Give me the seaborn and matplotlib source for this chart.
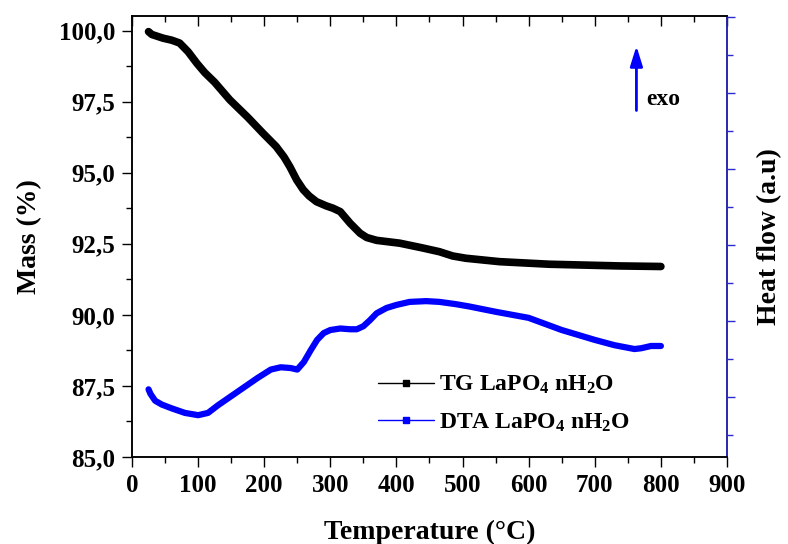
import numpy as np
import pandas as pd
import seaborn as sns
import matplotlib.pyplot as plt
from matplotlib.lines import Line2D
from matplotlib.ticker import MultipleLocator, FuncFormatter

# TG curve, mass in % (left axis)
tg_temp = [25, 30, 47, 60, 72, 85, 98, 110, 125, 148, 175, 198, 218, 230, 239, 249,
           259, 268, 279, 294, 304, 315, 330, 345, 355, 370, 405, 438, 465, 485,
           505, 556, 631, 737, 800]
tg_mass = [99.96, 99.86, 99.73, 99.66, 99.56, 99.25, 98.85, 98.52, 98.18, 97.56, 96.95,
           96.39, 95.92, 95.55, 95.20, 94.75, 94.40, 94.18, 93.98, 93.83, 93.75, 93.63,
           93.22, 92.87, 92.72, 92.62, 92.52, 92.36, 92.22, 92.07, 91.99, 91.87, 91.78,
           91.72, 91.70]

# DTA curve, heat flow in arbitrary units (right axis)
dta_temp = [25, 28, 35, 45, 60, 80, 100, 115, 130, 150, 170, 190, 210, 225, 240, 250,
            260, 270, 280, 290, 300, 315, 330, 340, 350, 360, 370, 385, 400, 420, 445,
            465, 490, 510, 550, 600, 650, 700, 730, 760, 770, 785, 800]
dta_flow = [0.10, 0.04, -0.05, -0.10, -0.15, -0.21, -0.24, -0.21, -0.11, 0.01, 0.13,
            0.25, 0.36, 0.39, 0.38, 0.36, 0.46, 0.61, 0.75, 0.84, 0.88, 0.90, 0.89, 0.89,
            0.93, 1.01, 1.10, 1.17, 1.21, 1.25, 1.26, 1.25, 1.22, 1.19, 1.12, 1.04, 0.88,
            0.75, 0.68, 0.63, 0.64, 0.67, 0.67]

labels = ['TG LaPO$_4$ nH$_2$O', 'DTA LaPO$_4$ nH$_2$O']

tg = pd.DataFrame({'temp': tg_temp, 'mass': tg_mass})
dta = pd.DataFrame({'temp': dta_temp, 'flow': dta_flow})

sns.set_style('ticks')
plt.rcParams['font.family'] = ['Liberation Serif', 'DejaVu Serif']
plt.rcParams['font.weight'] = 'bold'
plt.rcParams['axes.labelweight'] = 'bold'
plt.rcParams['text.color'] = 'black'
plt.rcParams['axes.labelcolor'] = 'black'
plt.rcParams['mathtext.fontset'] = 'custom'
plt.rcParams['mathtext.rm'] = 'Liberation Serif:bold'
plt.rcParams['mathtext.bf'] = 'Liberation Serif:bold'
plt.rcParams['mathtext.it'] = 'Liberation Serif:bold'
plt.rcParams['mathtext.default'] = 'rm'

blue_axis = '#2b2bd0'

fig = plt.figure(figsize=(7.88, 5.44), dpi=100)
fig.subplots_adjust(left=132/788, right=727/788, bottom=1-457/544, top=1-16/544)
ax = fig.add_subplot(111)
ax2 = ax.twinx()

sns.lineplot(data=tg, x='temp', y='mass', ax=ax, color='black', lw=5.5, sort=False)
sns.lineplot(data=dta, x='temp', y='flow', ax=ax2, color='blue', lw=4.5, sort=False)

ax.set_xlim(0, 900)
ax.set_ylim(85, 100.51)
ax2.set_ylim(-0.79, 5.01)

ax.xaxis.set_major_locator(MultipleLocator(100))
ax.xaxis.set_minor_locator(MultipleLocator(50))
ax.yaxis.set_major_locator(MultipleLocator(2.5))
ax.yaxis.set_minor_locator(MultipleLocator(1.25))
ax.yaxis.set_major_formatter(FuncFormatter(lambda v, p: f'{v:.1f}'.replace('.', ',')))
ax2.yaxis.set_major_locator(MultipleLocator(1))
ax2.yaxis.set_minor_locator(MultipleLocator(0.5))
ax2.yaxis.set_major_formatter(FuncFormatter(lambda v, p: ''))

ax.tick_params(axis='both', which='major', direction='out', length=7, width=1,
               labelsize=18, pad=5, colors='black')
ax.tick_params(axis='both', which='minor', direction='out', length=4, width=1,
               colors='black')
ax.tick_params(axis='x', which='both', top=True)
ax2.tick_params(axis='y', which='major', direction='out', length=6, width=1,
                colors=blue_axis)
ax2.tick_params(axis='y', which='minor', direction='out', length=4, width=1,
                colors=blue_axis)

for a in (ax, ax2):
    for s in a.spines.values():
        s.set_linewidth(1.1)
        s.set_color('black')
ax2.spines['right'].set_color(blue_axis)

# top ticks point inward
for t in ax.xaxis.get_major_ticks() + ax.xaxis.get_minor_ticks():
    t.tick2line.set_marker(3)

ax.set_xlabel('Temperature (°C)', fontsize=20, labelpad=17)
ax.set_ylabel('Mass (%)', fontsize=20, labelpad=12)
ax2.set_ylabel('Heat flow (a.u)', fontsize=20, labelpad=12)

ax.annotate('', xy=(763, 99.55), xytext=(763, 97.09),
            arrowprops=dict(arrowstyle='-|>,head_length=0.8,head_width=0.25',
                            color='blue', lw=2, mutation_scale=15))
ax.text(778, 97.56, 'exo', fontsize=17, fontweight='bold', ha='left', va='center')

handles = [Line2D([], [], color='black', lw=1, marker='s', ms=4),
           Line2D([], [], color='blue', lw=1, marker='s', ms=4)]
ax2.legend(handles, labels, loc='center left', bbox_to_anchor=(0.413, 0.12),
           frameon=False, fontsize=17, handlelength=2.4, handletextpad=0.2,
           labelspacing=0.65, borderpad=0, borderaxespad=0)

plt.savefig('out.png', dpi=100)
